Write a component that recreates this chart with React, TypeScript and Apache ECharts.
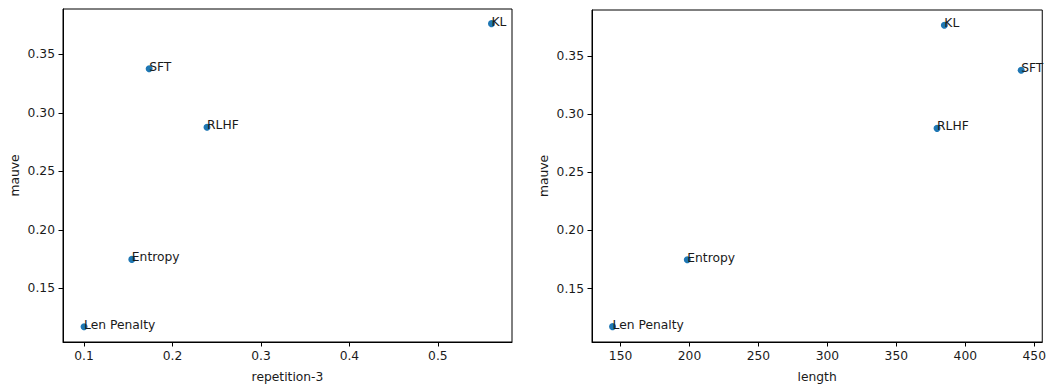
import React, { useEffect, useRef } from "react";
import * as echarts from "echarts";

const methods = ["SFT", "RLHF", "KL", "Entropy", "Len Penalty"];
const mauve = [0.3377, 0.2877, 0.3763, 0.1748, 0.1173];
const repetition3 = [0.1736, 0.239, 0.5606, 0.154, 0.1];
const lengths = [440.5, 379.5, 384.8, 198.4, 144.2];

const repTicks = [0.1, 0.2, 0.3, 0.4, 0.5];
const lengthTicks = [150, 200, 250, 300, 350, 400, 450];
const mauveTicks = [0.15, 0.2, 0.25, 0.3, 0.35];

const FONT = "DejaVu Sans";
const TXT = "#1a1a1a";
const FS = 12.3;

function makeXAxis(gridIndex: number, name: string, min: number, max: number, ticks: number[], fmt: (v: number) => string) {
  return {
    type: "value",
    gridIndex,
    name,
    nameLocation: "middle",
    nameGap: 29,
    nameTextStyle: { fontFamily: FONT, fontSize: FS, color: TXT },
    min,
    max,
    splitLine: { show: false },
    axisLine: { show: true, onZero: false, lineStyle: { color: "#000", width: 1 } },
    axisTick: { show: true, inside: false, length: 4.5, customValues: ticks, lineStyle: { color: "#000", width: 1 } },
    axisLabel: { show: true, margin: 8, customValues: ticks, formatter: fmt, fontFamily: FONT, fontSize: FS, color: TXT },
  };
}

function makeYAxis(gridIndex: number, min: number, max: number) {
  return {
    type: "value",
    gridIndex,
    name: "mauve",
    nameLocation: "middle",
    nameGap: 42,
    nameRotate: 90,
    nameTextStyle: { fontFamily: FONT, fontSize: FS, color: TXT },
    min,
    max,
    splitLine: { show: false },
    axisLine: { show: true, onZero: false, lineStyle: { color: "#000", width: 1 } },
    axisTick: { show: true, inside: false, length: 4.5, customValues: mauveTicks, lineStyle: { color: "#000", width: 1 } },
    axisLabel: { show: true, margin: 8, customValues: mauveTicks, formatter: (v: number) => v.toFixed(2), fontFamily: FONT, fontSize: FS, color: TXT },
  };
}

function makeSeries(xIndex: number, xs: number[]) {
  return {
    type: "scatter",
    xAxisIndex: xIndex,
    yAxisIndex: xIndex,
    symbolSize: 7,
    itemStyle: { color: "#1f77b4", opacity: 1 },
    data: xs.map((x, i) => ({ value: [x, mauve[i]], name: methods[i] })),
    label: {
      show: true,
      formatter: (p: any) => p.name,
      position: [3.5, 7.5],
      align: "left",
      verticalAlign: "bottom",
      fontFamily: FONT,
      fontSize: FS,
      color: TXT,
    },
    labelLayout: { hideOverlap: false },
  };
}

export default function App() {
  const ref = useRef<HTMLDivElement>(null);
  useEffect(() => {
    if (!ref.current) return;
    const chart = echarts.init(ref.current, null, { renderer: "svg" });
    chart.setOption({
      animation: false,
      backgroundColor: "#fff",
      grid: [
        { left: 63, top: 9, width: 449, height: 339, show: true, borderColor: "#000", borderWidth: 1, backgroundColor: "transparent" },
        { left: 592, top: 10, width: 452, height: 338, show: true, borderColor: "#000", borderWidth: 1, backgroundColor: "transparent" },
      ],
      xAxis: [
        makeXAxis(0, "repetition-3", 0.0762, 0.5838, repTicks, (v: number) => v.toFixed(1)),
        makeXAxis(1, "length", 129.3, 455.8, lengthTicks, (v: number) => String(Math.round(v))),
      ],
      yAxis: [makeYAxis(0, 0.1042, 0.3888), makeYAxis(1, 0.1041, 0.3894)],
      series: [makeSeries(0, repetition3), makeSeries(1, lengths)],
    });
    return () => chart.dispose();
  }, []);
  return <div ref={ref} style={{ position: "absolute", left: 0, top: 0, width: 1049, height: 388 }} />;
}
